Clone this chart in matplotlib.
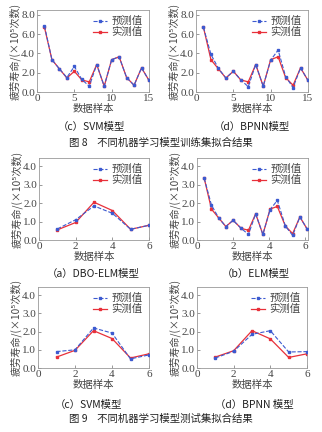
import matplotlib.pyplot as plt

plt.rcParams['font.family'] = ['Noto Sans CJK SC', 'DejaVu Sans']

# 训练集 (15个样本)
train_x = [1, 2, 3, 4, 5, 6, 7, 8, 9, 10, 11, 12, 13, 14, 15]
train_real = [6.7, 3.35, 2.4, 1.45, 2.15, 1.25, 1.05, 2.85, 0.6, 3.35, 3.65, 1.5, 0.7, 2.5, 1.2]
svm_train_pred = [6.85, 3.35, 2.4, 1.5, 2.65, 1.3, 0.6, 2.85, 0.6, 3.35, 3.65, 1.5, 0.7, 2.5, 1.2]
bpnn_train_pred = [6.7, 3.9, 2.45, 1.45, 2.15, 1.25, 0.55, 2.85, 0.6, 3.3, 4.35, 1.6, 0.45, 2.5, 1.2]

# 测试集 (6个样本)
test_x = [1, 2, 3, 4, 5, 6]
dbo_real = [0.55, 0.95, 2.05, 1.6, 0.58, 0.8]
dbo_pred = [0.6, 1.1, 1.85, 1.45, 0.58, 0.8]
svm_real = [0.6, 0.97, 2.05, 1.62, 0.55, 0.78]
svm_pred = [0.9, 1.0, 2.2, 1.92, 0.5, 0.72]
bpnn_real = [0.6, 0.95, 2.05, 1.6, 0.58, 0.78]
bpnn_pred = [0.55, 0.92, 1.85, 2.05, 0.88, 0.9]

# ELM 图
elm_x = [0.4, 0.8, 1.2, 1.6, 2.0, 2.45, 2.85, 3.25, 3.65, 4.05, 4.45, 4.9, 5.3, 5.7, 6.1]
elm_real = [3.35, 1.68, 1.2, 0.73, 1.07, 0.63, 0.53, 1.42, 0.3, 1.68, 1.82, 0.75, 0.35, 1.25, 0.6]
elm_pred = [3.35, 1.9, 1.2, 0.73, 1.07, 0.63, 0.3, 1.42, 0.3, 1.65, 2.15, 0.75, 0.25, 1.25, 0.6]

ylabel = '疲劳寿命/(×10⁵次数)'
serif = ['Liberation Serif', 'DejaVu Serif']
red = '#e8303a'
blue = '#3c5ad0'
grey = '#444444'

fig = plt.figure(figsize=(3.22, 4.32), dpi=100)
W, H = 322, 432


def add_ax(l, r, t, b):
    return fig.add_axes([l / W, 1 - b / H, (r - l) / W, (b - t) / H])


def draw(ax, x, pred, real, xlim, ylim, xticks, yticks):
    ax.plot(x, pred, '--', color=blue, lw=0.8, marker='s', ms=1.8, label='预测值', zorder=3)
    ax.plot(x, real, '-', color=red, lw=0.9, marker='s', ms=1.8, label='实测值', zorder=2)
    ax.set_xlim(xlim)
    ax.set_ylim(ylim)
    ax.set_xticks(xticks)
    ax.set_yticks(yticks)
    ax.set_xticklabels([str(t) for t in xticks], family=serif, fontsize=8, color=grey)
    ax.set_yticklabels(['%.1f' % t for t in yticks], family=serif, fontsize=8, color=grey)
    ax.tick_params(direction='in', length=2, width=0.6, color='#888888', pad=1.5)
    for s in ax.spines.values():
        s.set_color('#999999')
        s.set_linewidth(0.6)
    ax.set_xlabel('数据样本', fontsize=7.5, color=grey, labelpad=0.5)
    ax.set_ylabel(ylabel, fontsize=7.3, color=grey, labelpad=0.5)
    ax.legend(loc='upper right', frameon=False, fontsize=7.5, handlelength=1.4,
              borderpad=0.1, labelspacing=0.1, handletextpad=0.4, labelcolor=grey)


top_y = [0, 2, 4, 6, 8]
sub_y = [0, 1, 2, 3, 4]

ax1 = add_ax(37, 149, 10, 92)
draw(ax1, train_x, svm_train_pred, train_real, (0, 15), (0, 8.5), [0, 5, 10, 15], top_y)
ax2 = add_ax(196, 308, 10, 92)
draw(ax2, train_x, bpnn_train_pred, train_real, (0, 15), (0, 8.5), [0, 5, 10, 15], top_y)

ax3 = add_ax(39, 149, 158, 240)
draw(ax3, test_x, dbo_pred, dbo_real, (0, 6), (0, 4.45), [0, 2, 4, 6], sub_y)
ax4 = add_ax(197, 308, 158, 240)
draw(ax4, elm_x, elm_pred, elm_real, (0, 6.15), (0, 4.45), [0, 2, 4, 6], sub_y)

ax5 = add_ax(38, 149, 287, 368)
draw(ax5, test_x, svm_pred, svm_real, (0, 6), (0, 4.45), [0, 2, 4, 6], sub_y)
ax6 = add_ax(197, 307, 287, 368)
draw(ax6, test_x, bpnn_pred, bpnn_real, (0, 6), (0, 4.45), [0, 2, 4, 6], sub_y)

cap = dict(fontsize=7.5, color='#222222', ha='center', va='center')
fig.text(91 / W, 1 - 127 / H, '（c）SVM模型', **cap)
fig.text(252 / W, 1 - 127 / H, '（d）BPNN模型', **cap)
fig.text(161 / W, 1 - 143 / H, '图 8    不同机器学习模型训练集拟合结果', **cap)
fig.text(93 / W, 1 - 274 / H, '（a）DBO-ELM模型', **cap)
fig.text(256 / W, 1 - 274 / H, '（b）ELM模型', **cap)
fig.text(88 / W, 1 - 405 / H, '（c）SVM模型', **cap)
fig.text(254 / W, 1 - 405 / H, '（d）BPNN 模型', **cap)
fig.text(161 / W, 1 - 419 / H, '图 9    不同机器学习模型测试集拟合结果', **cap)

fig.savefig('out.png', dpi=100)
